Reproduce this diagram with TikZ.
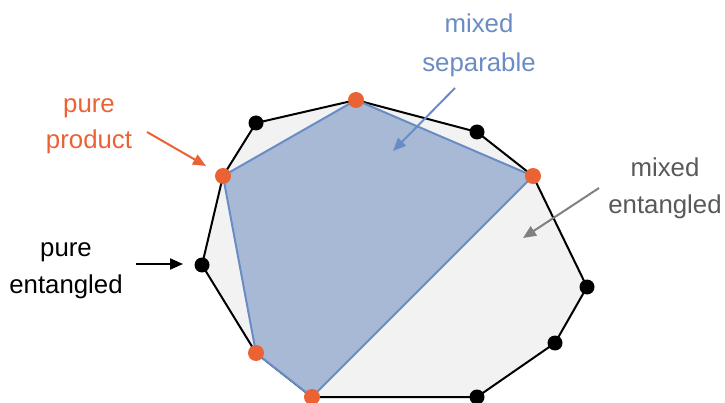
\documentclass[tikz,border=0pt]{standalone}
\usepackage{fontspec}
\setmainfont{Liberation Sans}
\usetikzlibrary{arrows.meta}
\definecolor{myorange}{HTML}{EB6235}
\definecolor{myblue}{HTML}{6A8CC4}
\definecolor{myfillblue}{HTML}{A7B9D5}
\definecolor{mygrayfill}{HTML}{F2F2F2}
\definecolor{mygraytext}{HTML}{595959}
\definecolor{mygrayarrow}{HTML}{808080}
\tikzset{
  purestate/.style={circle,fill=black,inner sep=0pt,minimum size=15pt},
  prodstate/.style={circle,fill=myorange,inner sep=0pt,minimum size=16pt},
  lbl/.style={align=center,font=\fontsize{25.8}{37}\selectfont,inner sep=0pt},
  pointer/.style={line width=2pt,-{Triangle[length=13pt,width=11pt]}},
}
\begin{document}
\begin{tikzpicture}[x=1pt,y=-1pt]
\useasboundingbox (0,0) rectangle (725,403);
% vertices
\coordinate (v1) at (356,100);
\coordinate (v2) at (477,132);
\coordinate (v3) at (533,176);
\coordinate (v4) at (587,287);
\coordinate (v5) at (555,343);
\coordinate (v6) at (477,397);
\coordinate (v7) at (312,397);
\coordinate (v8) at (256,353);
\coordinate (v9) at (202,265);
\coordinate (v10) at (223,176);
\coordinate (v11) at (256,123);
% outer polygon
\draw[fill=mygrayfill,line width=2pt,line join=round] (v1) -- (v2) -- (v3) -- (v4) -- (v5) -- (v6) -- (v7) -- (v8) -- (v9) -- (v10) -- (v11) -- cycle;
% separable polygon
\draw[fill=myfillblue,draw=myblue,line width=2pt,line join=round] (v1) -- (v3) -- (v7) -- (v8) -- (v10) -- cycle;
% dots
\node[prodstate] (p1) at (v1) {};
\node[purestate] (e2) at (v2) {};
\node[prodstate] (p3) at (v3) {};
\node[purestate] (e4) at (v4) {};
\node[purestate] (e5) at (v5) {};
\node[purestate] (e6) at (v6) {};
\node[prodstate] (p7) at (v7) {};
\node[prodstate] (p8) at (v8) {};
\node[purestate] (e9) at (v9) {};
\node[prodstate] (p10) at (v10) {};
\node[purestate] (e11) at (v11) {};
% labels
\node[lbl,text=myorange,font=\fontsize{25.8}{36}\selectfont] (lprod) at (89,126) {pure\\product};
\node[lbl] (lent) at (66,270.5) {pure\\entangled};
\node[lbl,text=myblue,font=\fontsize{25.8}{39}\selectfont] (lsep) at (479,45) {mixed\\separable};
\node[lbl,text=mygraytext] (lme) at (665,188) {mixed\\entangled};
% arrows
\coordinate (a1s) at (147,132); \coordinate (a1e) at (206,166);
\coordinate (a2s) at (136,264); \coordinate (a2e) at (183,264);
\coordinate (a3s) at (455,88);  \coordinate (a3e) at (393,151);
\coordinate (a4s) at (599,188); \coordinate (a4e) at (523,238);
\draw[pointer,myorange] (a1s) -- (a1e);
\draw[pointer,black] (a2s) -- (a2e);
\draw[pointer,myblue] (a3s) -- (a3e);
\draw[pointer,mygrayarrow] (a4s) -- (a4e);
\end{tikzpicture}
\end{document}
